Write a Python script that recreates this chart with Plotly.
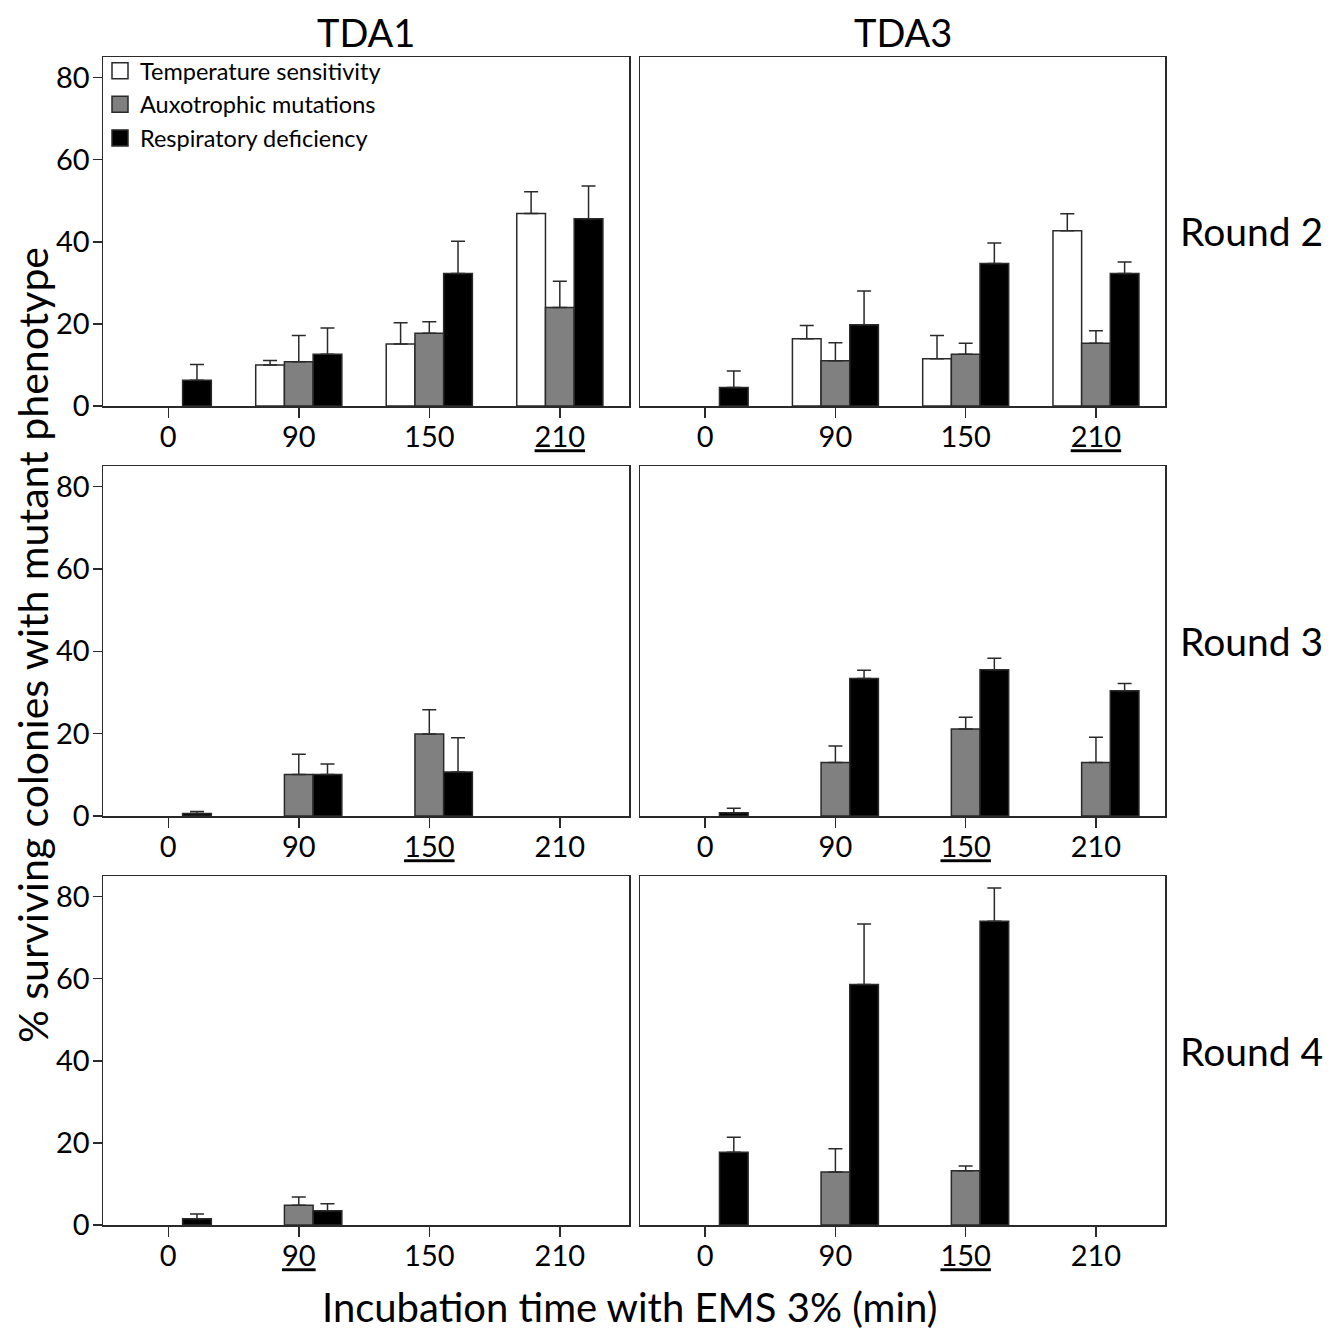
import plotly.graph_objects as go

categories = ["0", "90", "150", "210"]
series_names = ["Temperature sensitivity", "Auxotrophic mutations", "Respiratory deficiency"]
series_colors = ["#ffffff", "#808080", "#000000"]
strains = ["TDA1", "TDA3"]
rounds = ["Round 2", "Round 3", "Round 4"]

N = None
# TDA1 values (mean, upper error)
tda1_r2_temp = [N, 10.0, 15.1, 46.9]
tda1_r2_temp_err = [N, 1.1, 5.2, 5.3]
tda1_r2_aux = [N, 10.8, 17.7, 24.0]
tda1_r2_aux_err = [N, 6.4, 2.8, 6.4]
tda1_r2_resp = [6.3, 12.6, 32.3, 45.6]
tda1_r2_resp_err = [3.8, 6.4, 7.8, 8.0]

tda1_r3_temp = [N, N, N, N]
tda1_r3_temp_err = [N, N, N, N]
tda1_r3_aux = [N, 10.1, 19.9, N]
tda1_r3_aux_err = [N, 4.9, 5.9, N]
tda1_r3_resp = [0.6, 10.1, 10.7, N]
tda1_r3_resp_err = [0.5, 2.5, 8.3, N]

tda1_r4_temp = [N, N, N, N]
tda1_r4_temp_err = [N, N, N, N]
tda1_r4_aux = [N, 4.8, N, N]
tda1_r4_aux_err = [N, 2.0, N, N]
tda1_r4_resp = [1.5, 3.5, N, N]
tda1_r4_resp_err = [1.2, 1.7, N, N]

# TDA3 values
tda3_r2_temp = [N, 16.4, 11.5, 42.7]
tda3_r2_temp_err = [N, 3.2, 5.7, 4.1]
tda3_r2_aux = [N, 11.0, 12.6, 15.3]
tda3_r2_aux_err = [N, 4.4, 2.7, 3.0]
tda3_r2_resp = [4.5, 19.8, 34.7, 32.3]
tda3_r2_resp_err = [4.0, 8.2, 5.0, 2.8]

tda3_r3_temp = [N, N, N, N]
tda3_r3_temp_err = [N, N, N, N]
tda3_r3_aux = [N, 13.0, 21.1, 13.0]
tda3_r3_aux_err = [N, 4.0, 2.9, 6.1]
tda3_r3_resp = [0.8, 33.4, 35.5, 30.4]
tda3_r3_resp_err = [1.1, 2.0, 2.8, 1.8]

tda3_r4_temp = [N, N, N, N]
tda3_r4_temp_err = [N, N, N, N]
tda3_r4_aux = [N, 12.9, 13.2, N]
tda3_r4_aux_err = [N, 5.7, 1.2, N]
tda3_r4_resp = [17.7, 58.6, 74.0, N]
tda3_r4_resp_err = [3.7, 14.7, 8.1, N]

# index of the underlined tick label per panel [row][col]
underlined = [[3, 3], [2, 2], [1, 2]]

yticks = [0, 20, 40, 60, 80]

panels = [
    [
        [(tda1_r2_temp, tda1_r2_temp_err), (tda1_r2_aux, tda1_r2_aux_err), (tda1_r2_resp, tda1_r2_resp_err)],
        [(tda3_r2_temp, tda3_r2_temp_err), (tda3_r2_aux, tda3_r2_aux_err), (tda3_r2_resp, tda3_r2_resp_err)],
    ],
    [
        [(tda1_r3_temp, tda1_r3_temp_err), (tda1_r3_aux, tda1_r3_aux_err), (tda1_r3_resp, tda1_r3_resp_err)],
        [(tda3_r3_temp, tda3_r3_temp_err), (tda3_r3_aux, tda3_r3_aux_err), (tda3_r3_resp, tda3_r3_resp_err)],
    ],
    [
        [(tda1_r4_temp, tda1_r4_temp_err), (tda1_r4_aux, tda1_r4_aux_err), (tda1_r4_resp, tda1_r4_resp_err)],
        [(tda3_r4_temp, tda3_r4_temp_err), (tda3_r4_aux, tda3_r4_aux_err), (tda3_r4_resp, tda3_r4_resp_err)],
    ],
]

W, H = 1332, 1333
FONT = "Lato, 'Open Sans', sans-serif"
LINE = "#2a2a2a"

col_px = [(103, 629), (640, 1165)]
row_px = [(57, 406), (466, 816), (876, 1225)]


def fx(px):
    return px / W


def fy(py):
    return 1 - py / H


fig = go.Figure()
layout = dict(
    width=W, height=H, margin=dict(l=0, r=0, t=0, b=0, autoexpand=False),
    paper_bgcolor="white", plot_bgcolor="white",
    barmode="group", bargap=0.34, bargroupgap=0.0,
    font=dict(family=FONT, color="black"),
    showlegend=True,
    legend=dict(x=fx(100), y=fy(49), xanchor="left", yanchor="top",
                bgcolor="rgba(0,0,0,0)", font=dict(size=23.5, family=FONT),
                itemsizing="trace", tracegroupgap=0),
)

k = 0
for r in range(3):
    for c in range(2):
        k += 1
        xa = "x" if k == 1 else f"x{k}"
        ya = "y" if k == 1 else f"y{k}"
        for s in range(3):
            vals, errs = panels[r][c][s]
            fig.add_trace(go.Bar(
                x=categories, y=vals, name=series_names[s], showlegend=False,
                marker=dict(color=series_colors[s], line=dict(color=LINE, width=1.5)),
                error_y=dict(type="data", symmetric=False, array=errs,
                             arrayminus=[0 if v is not None else None for v in errs],
                             color=LINE, thickness=1.5, width=7),
                xaxis=xa, yaxis=ya,
            ))
        ticktext = [f"<u>{t}</u>" if i == underlined[r][c] else t for i, t in enumerate(categories)]
        x0, x1 = col_px[c]
        y0, y1 = row_px[r]
        layout["xaxis" if k == 1 else f"xaxis{k}"] = dict(
            domain=[fx(x0), fx(x1)], anchor=ya, type="category",
            range=[-0.5, 3.53], tickmode="array", tickvals=categories, ticktext=ticktext,
            ticks="outside", ticklen=10, tickwidth=1.5, tickcolor=LINE,
            ticklabelstandoff=-5,
            showline=True, linecolor=LINE, linewidth=1.5, mirror=True,
            showgrid=False, zeroline=False, fixedrange=True, automargin=False,
            tickfont=dict(size=29, family=FONT, color="black"),
        )
        layout["yaxis" if k == 1 else f"yaxis{k}"] = dict(
            domain=[fy(y1), fy(y0)], anchor=xa,
            range=[0, 85], tickvals=yticks,
            ticks="outside" if c == 0 else "", ticklen=9, tickwidth=1.5, tickcolor=LINE,
            showticklabels=(c == 0), ticklabelstandoff=-3,
            showline=True, linecolor=LINE, linewidth=1.5, mirror=True,
            showgrid=False, zeroline=False, fixedrange=True, automargin=False,
            tickfont=dict(size=29, family=FONT, color="black"),
        )

# legend entries
for s in range(3):
    fig.add_trace(go.Scatter(
        x=[None], y=[None], mode="markers", name=series_names[s],
        marker=dict(symbol="square", size=16, color=series_colors[s],
                    line=dict(color=LINE, width=1.5)),
        xaxis="x", yaxis="y", showlegend=True,
    ))

annotations = []
for c, name in enumerate(strains):
    x0, x1 = col_px[c]
    annotations.append(dict(text=name, x=fx((x0 + x1) / 2), y=fy(32), xref="paper", yref="paper",
                            xanchor="center", yanchor="middle", showarrow=False,
                            font=dict(size=38, family=FONT, color="black")))
for r, name in enumerate(rounds):
    y0, y1 = row_px[r]
    annotations.append(dict(text=name, x=fx(1178), y=fy((y0 + y1) / 2), xref="paper", yref="paper",
                            xanchor="left", yanchor="middle", showarrow=False,
                            font=dict(size=39, family=FONT, color="black")))
annotations.append(dict(text="% surviving colonies with mutant phenotype", x=fx(32), y=fy(645),
                        xref="paper", yref="paper", xanchor="center", yanchor="middle",
                        textangle=-90, showarrow=False,
                        font=dict(size=41, family=FONT, color="black")))
annotations.append(dict(text="Incubation time with EMS 3% (min)", x=fx(629), y=0,
                        xref="paper", yref="paper", xanchor="center", yanchor="bottom",
                        showarrow=False, font=dict(size=40, family=FONT, color="black")))
layout["annotations"] = annotations

fig.update_layout(**layout)
fig.write_html(
    "out.html",
    config={"displayModeBar": False, "staticPlot": True},
    post_script="document.documentElement.style.margin='0';document.body.style.margin='0';"
                "document.documentElement.style.overflow='hidden';document.body.style.overflow='hidden';",
)
